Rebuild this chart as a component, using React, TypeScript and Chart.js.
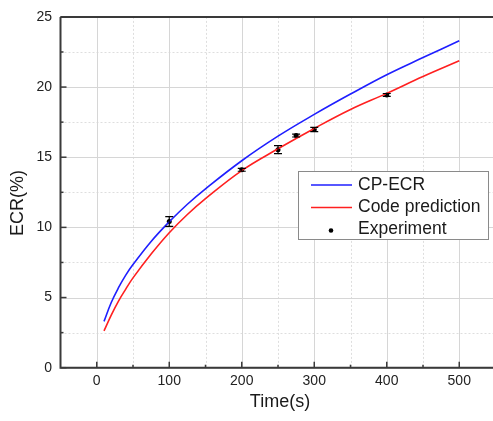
import React, { useEffect, useRef } from "react";
import { Chart, registerables } from "chart.js";

Chart.register(...registerables);

const FONT = "'Liberation Sans', Arial, Helvetica, sans-serif";

// ---- data ----
const curveTime = [10, 20, 30, 40, 50, 75, 100, 125, 150, 200, 250, 300, 350, 400, 450, 500];
const cpEcr = [3.3, 4.65, 5.7, 6.6, 7.35, 9.0, 10.4, 11.65, 12.75, 14.75, 16.5, 18.05, 19.5, 20.88, 22.1, 23.3];
const codePrediction = [2.62, 3.75, 4.75, 5.6, 6.4, 8.1, 9.62, 10.92, 12.05, 14.05, 15.6, 17.05, 18.4, 19.55, 20.75, 21.87];

const expTime = [100, 200, 250, 275, 300, 400];
const expEcr = [10.42, 14.1, 15.54, 16.54, 16.97, 19.44];
const expError = [0.35, 0.1, 0.28, 0.1, 0.15, 0.1];

const seriesLabels = ["CP-ECR", "Code prediction", "Experiment"];
const xMajorTicks = [0, 100, 200, 300, 400, 500];
const xMinorTicks = [-50, 50, 150, 250, 350, 450, 550];
const yMajorTicks = [0, 5, 10, 15, 20, 25];
const yMinorTicks = [2.5, 7.5, 12.5, 17.5, 22.5];
const xTitle = "Time(s)";
const yTitle = "ECR(%)";

const originPlugin = {
  id: "originStyle",
  beforeDatasetsDraw(chart: any) {
    const { ctx, chartArea: a, scales } = chart;
    const x = scales.x;
    const y = scales.y;
    ctx.save();
    ctx.lineWidth = 1;
    // minor dotted grid
    ctx.strokeStyle = "#dedede";
    ctx.setLineDash([2, 2]);
    for (const v of xMinorTicks) {
      const px = Math.round(x.getPixelForValue(v)) + 0.5;
      if (px <= a.left + 1 || px >= a.right) continue;
      ctx.beginPath();
      ctx.moveTo(px, a.top);
      ctx.lineTo(px, a.bottom);
      ctx.stroke();
    }
    for (const v of yMinorTicks) {
      const py = Math.round(y.getPixelForValue(v)) + 0.5;
      ctx.beginPath();
      ctx.moveTo(a.left, py);
      ctx.lineTo(a.right, py);
      ctx.stroke();
    }
    // major solid grid
    ctx.setLineDash([]);
    ctx.strokeStyle = "#d6d6d6";
    for (const v of xMajorTicks) {
      const px = Math.round(x.getPixelForValue(v)) + 0.5;
      ctx.beginPath();
      ctx.moveTo(px, a.top);
      ctx.lineTo(px, a.bottom);
      ctx.stroke();
    }
    for (const v of yMajorTicks) {
      const py = Math.round(y.getPixelForValue(v)) + 0.5;
      ctx.beginPath();
      ctx.moveTo(a.left, py);
      ctx.lineTo(a.right, py);
      ctx.stroke();
    }
    ctx.restore();
  },
  afterDatasetsDraw(chart: any) {
    const { ctx, chartArea: a, scales } = chart;
    const x = scales.x;
    const y = scales.y;
    ctx.save();
    // error bars for experiment
    ctx.strokeStyle = "#000";
    ctx.lineWidth = 1.2;
    for (let i = 0; i < expTime.length; i++) {
      const px = x.getPixelForValue(expTime[i]);
      const pt = y.getPixelForValue(expEcr[i] + expError[i]);
      const pb = y.getPixelForValue(expEcr[i] - expError[i]);
      ctx.beginPath();
      ctx.moveTo(px, pt);
      ctx.lineTo(px, pb);
      ctx.moveTo(px - 4, pt);
      ctx.lineTo(px + 4, pt);
      ctx.moveTo(px - 4, pb);
      ctx.lineTo(px + 4, pb);
      ctx.stroke();
    }
    // axes frame
    ctx.strokeStyle = "#3a3a3a";
    ctx.lineWidth = 2;
    ctx.beginPath();
    ctx.moveTo(a.left, a.top);
    ctx.lineTo(a.left, a.bottom);
    ctx.lineTo(a.right, a.bottom);
    ctx.lineTo(a.right, a.top);
    ctx.lineTo(a.left, a.top);
    ctx.stroke();
    // inward ticks
    ctx.lineWidth = 1.5;
    for (const v of xMajorTicks) {
      const px = x.getPixelForValue(v);
      ctx.beginPath();
      ctx.moveTo(px, a.bottom);
      ctx.lineTo(px, a.bottom - 6);
      ctx.stroke();
    }
    for (const v of xMinorTicks) {
      const px = x.getPixelForValue(v);
      if (px <= a.left + 1 || px >= a.right - 1) continue;
      ctx.beginPath();
      ctx.moveTo(px, a.bottom);
      ctx.lineTo(px, a.bottom - 3);
      ctx.stroke();
    }
    for (const v of yMajorTicks) {
      const py = y.getPixelForValue(v);
      ctx.beginPath();
      ctx.moveTo(a.left, py);
      ctx.lineTo(a.left + 6, py);
      ctx.stroke();
    }
    for (const v of yMinorTicks) {
      const py = y.getPixelForValue(v);
      ctx.beginPath();
      ctx.moveTo(a.left, py);
      ctx.lineTo(a.left + 3, py);
      ctx.stroke();
    }
    ctx.restore();
  },
  afterDraw(chart: any) {
    const { ctx } = chart;
    ctx.save();
    // axis titles
    ctx.fillStyle = "#1a1a1a";
    ctx.font = `18px ${FONT}`;
    ctx.textAlign = "center";
    ctx.textBaseline = "middle";
    ctx.fillText(xTitle, 280, 402);
    ctx.save();
    ctx.translate(18.5, 203);
    ctx.rotate(-Math.PI / 2);
    ctx.fillText(yTitle, 0, 0);
    ctx.restore();

    // legend box
    const bx = 298.5, by = 171.5, bw = 190, bh = 68;
    ctx.fillStyle = "#ffffff";
    ctx.fillRect(bx, by, bw, bh);
    ctx.strokeStyle = "#8a8a8a";
    ctx.lineWidth = 1;
    ctx.strokeRect(bx, by, bw, bh);
    const rows = [185, 207.5, 229.5];
    chart.data.datasets.forEach((ds: any, i: number) => {
      const ry = rows[i];
      if (ds.showLine) {
        ctx.strokeStyle = ds.borderColor;
        ctx.lineWidth = 1.5;
        ctx.beginPath();
        ctx.moveTo(311, ry);
        ctx.lineTo(352, ry);
        ctx.stroke();
      } else {
        ctx.fillStyle = "#000";
        ctx.beginPath();
        ctx.arc(331, ry + 1, 2.3, 0, Math.PI * 2);
        ctx.fill();
      }
      ctx.fillStyle = "#1a1a1a";
      ctx.font = `17.5px ${FONT}`;
      ctx.textAlign = "left";
      ctx.textBaseline = "middle";
      ctx.fillText(ds.label, 358, ry);
    });
    ctx.restore();
  },
};

export default function App() {
  const canvasRef = useRef<HTMLCanvasElement | null>(null);

  useEffect(() => {
    const canvas = canvasRef.current;
    if (!canvas) return;
    const chart = new Chart(canvas, {
      type: "scatter",
      data: {
        datasets: [
          {
            label: seriesLabels[0],
            data: curveTime.map((t, i) => ({ x: t, y: cpEcr[i] })),
            showLine: true,
            borderColor: "#1f1fff",
            backgroundColor: "#1f1fff",
            borderWidth: 1.6,
            pointRadius: 0,
            tension: 0.4,
          },
          {
            label: seriesLabels[1],
            data: curveTime.map((t, i) => ({ x: t, y: codePrediction[i] })),
            showLine: true,
            borderColor: "#ff2020",
            backgroundColor: "#ff2020",
            borderWidth: 1.6,
            pointRadius: 0,
            tension: 0.4,
          },
          {
            label: seriesLabels[2],
            data: expTime.map((t, i) => ({ x: t, y: expEcr[i] })),
            showLine: false,
            borderColor: "#000",
            backgroundColor: "#000",
            pointRadius: 2.5,
            pointBorderWidth: 0,
          },
        ],
      } as any,
      options: {
        responsive: false,
        animation: false,
        devicePixelRatio: 1,
        layout: { padding: { left: 0, top: 15.3, right: 4.5, bottom: 0 } },
        plugins: {
          legend: { display: false },
          tooltip: { enabled: false },
        },
        scales: {
          x: {
            type: "linear",
            min: -50,
            max: 550,
            grid: { display: false, drawTicks: false },
            border: { display: false },
            afterBuildTicks: (scale: any) => {
              scale.ticks = xMajorTicks.map((v) => ({ value: v }));
            },
            afterFit: (scale: any) => {
              scale.height = 53.3;
            },
            ticks: {
              padding: 5,
              color: "#222",
              font: { family: FONT, size: 14 },
              maxRotation: 0,
              autoSkip: false,
            },
          },
          y: {
            type: "linear",
            min: 0,
            max: 25,
            grid: { display: false, drawTicks: false },
            border: { display: false },
            afterBuildTicks: (scale: any) => {
              scale.ticks = yMajorTicks.map((v) => ({ value: v }));
            },
            afterFit: (scale: any) => {
              scale.width = 60.5;
            },
            ticks: {
              padding: 8.5,
              color: "#222",
              font: { family: FONT, size: 14 },
            },
          },
        },
      } as any,
      plugins: [originPlugin],
    });
    return () => chart.destroy();
  }, []);

  return (
    <div
      style={{
        position: "absolute",
        left: 0,
        top: 0,
        width: 493,
        height: 421,
        overflow: "hidden",
        background: "#fff",
      }}
    >
      <canvas ref={canvasRef} width={500} height={421} style={{ display: "block" }} />
    </div>
  );
}
